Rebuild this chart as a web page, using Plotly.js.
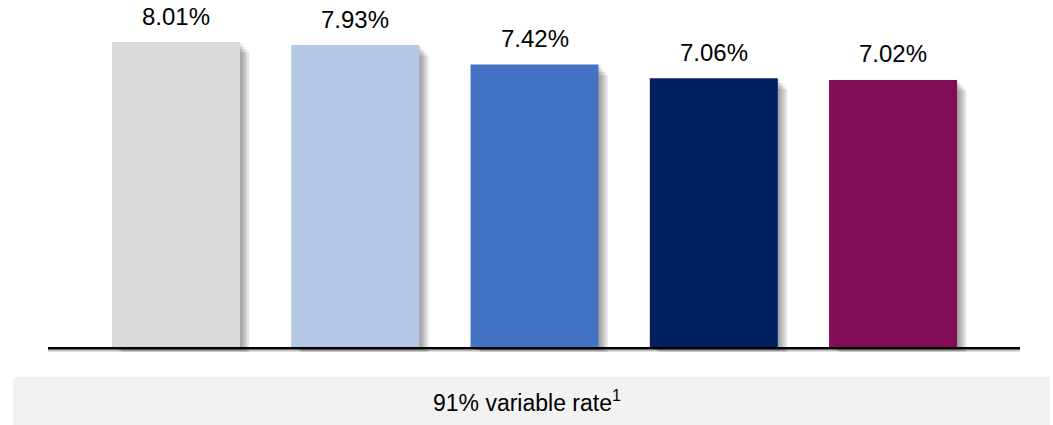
<!DOCTYPE html>
<html>
<head>
<meta charset="utf-8">
<script src="https://cdn.plot.ly/plotly-3.0.1.min.js"></script>
<style>html,body{margin:0;padding:0;background:#fff;}#chart{width:1053px;height:425px;}</style>
</head>
<body>
<div id="chart"></div>
<script>
const categories = ["A", "B", "C", "D", "E"];
const values = [8.01, 7.93, 7.42, 7.06, 7.02];
const labels = ["8.01%", "7.93%", "7.42%", "7.06%", "7.02%"];
const colors = ["#d9d9d9", "#b4c7e7", "#4472c4", "#002060", "#820d56"];
const footnote = "91% variable rate<sup>1</sup>";

const xs = categories.map((c, i) => i);
const barWidth = 0.714;
const traces = [];
// soft drop shadow layers
[1, 2, 3, 4].forEach(k => {
  traces.push({
    type: 'bar',
    x: xs.map(x => x + 0.013 * k),
    y: values.map(v => v + 0.03 - 0.05 * k),
    base: values.map(() => -0.025 * k),
    width: barWidth,
    marker: {color: 'rgba(0,0,0,0.10)', line: {width: 0}},
    hoverinfo: 'skip',
    showlegend: false
  });
});
traces.push({
  type: 'bar',
  x: xs,
  y: values,
  width: barWidth,
  marker: {color: colors, line: {width: 0}},
  hoverinfo: 'skip',
  showlegend: false
});

const annotations = values.map((v, i) => ({
  x: xs[i], y: v, xref: 'x', yref: 'y',
  text: labels[i], showarrow: false,
  yanchor: 'middle', yshift: 26,
  font: {family: 'Liberation Sans, Arial, sans-serif', size: 24, color: '#000'}
}));
annotations.push({
  x: 0.493, y: -0.14, xref: 'paper', yref: 'paper',
  text: footnote, showarrow: false,
  xanchor: 'center', yanchor: 'middle',
  font: {family: 'Liberation Sans, Arial, sans-serif', size: 23, color: '#000'}
});

const layout = {
  width: 1053, height: 425,
  margin: {l: 48, r: 33, t: 0, b: 73},
  paper_bgcolor: '#fff', plot_bgcolor: '#fff',
  barmode: 'overlay',
  xaxis: {range: [-0.714, 4.708], visible: false, fixedrange: true},
  yaxis: {range: [-0.1, 9.11], visible: false, fixedrange: true},
  shapes: [
    {type: 'rect', xref: 'paper', yref: 'paper', x0: -0.036, x1: 1.031, y0: -0.2074, y1: -0.071,
     fillcolor: '#f2f2f2', line: {width: 0}, layer: 'below'},
    {type: 'line', xref: 'paper', yref: 'y', x0: 0, x1: 1, y0: -0.06, y1: -0.06,
     line: {color: 'rgba(0,0,0,0.25)', width: 2}, layer: 'above'},
    {type: 'line', xref: 'paper', yref: 'y', x0: 0, x1: 1, y0: 0, y1: 0,
     line: {color: '#000', width: 2.5}, layer: 'above'}
  ],
  annotations: annotations
};

Plotly.newPlot('chart', traces, layout, {displayModeBar: false, staticPlot: true});
</script>
</body>
</html>
